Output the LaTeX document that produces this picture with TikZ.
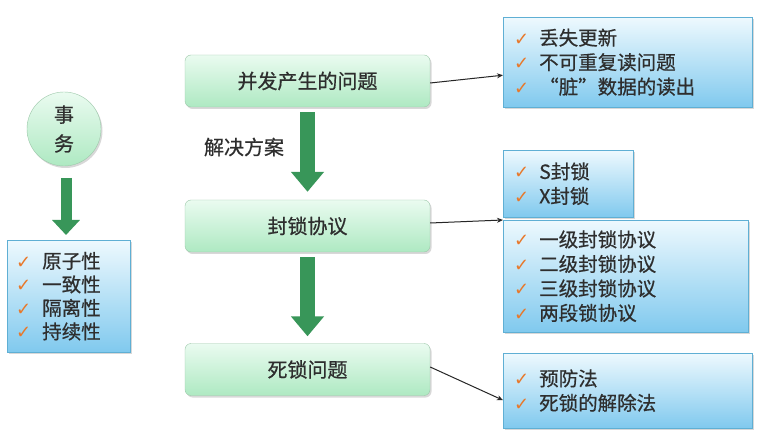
\documentclass[tikz,border=0pt]{standalone}
\usepackage{fontspec}
\setmainfont{Noto Sans CJK SC}[FakeBold=0.6]
\newfontfamily\dejavu{DejaVu Sans}
\usetikzlibrary{shadows,arrows.meta}
\definecolor{txt}{HTML}{2E2E2E}
\definecolor{ckor}{HTML}{E8782A}
\definecolor{lbtop}{HTML}{EEF9FE}
\definecolor{lbbot}{HTML}{80C9EE}
\definecolor{lbdraw}{HTML}{5FAFD4}
\definecolor{gbtop}{HTML}{EAFBF0}
\definecolor{gbbot}{HTML}{AEE9C2}
\definecolor{gbdraw}{HTML}{9DC8AA}
\definecolor{arrg}{HTML}{389659}
\newcommand{\ck}{\makebox[25pt][l]{\dejavu\color{ckor}\fontsize{18}{18}\selectfont ✓}}
\newcommand{\ckk}{\makebox[26pt][l]{\dejavu\color{ckor}\fontsize{18}{18}\selectfont ✓}}
\tikzset{
  gbox/.style={draw=gbdraw, rounded corners=6pt, top color=gbtop, bottom color=gbbot,
    minimum width=245pt, minimum height=52pt, text=txt,
    font=\fontsize{20}{24}\selectfont,
    drop shadow={shadow xshift=1.5pt, shadow yshift=-2pt, opacity=0.3}},
  lbox/.style={draw=lbdraw, top color=lbtop, bottom color=lbbot, text=txt,
    align=left, anchor=north west, inner xsep=11pt, inner ysep=0pt,
    font=\fontsize{19.5}{24.5}\selectfont,
    drop shadow={shadow xshift=1.5pt, shadow yshift=-2pt, opacity=0.3}},
  bigarrow/.style={draw=arrg, line width=15pt, -{Triangle[width=32pt,length=20pt]}},
  smallarrow/.style={draw=arrg, line width=11pt, -{Triangle[width=27pt,length=15pt]}},
  thin/.style={draw=black!85, line width=1pt, -{Stealth[length=6pt,width=5pt]}},
}
\begin{document}
\begin{tikzpicture}[x=1pt,y=-1pt]
\useasboundingbox[fill=white] (0,0) rectangle (762,435);
% left part
\node[circle, draw=gbdraw, top color=gbtop, bottom color=gbbot, minimum size=74pt,
  align=center, text=txt, font=\fontsize{20}{29}\selectfont,
  drop shadow={shadow xshift=1.5pt, shadow yshift=-2pt, opacity=0.3}] (sw) at (64,129) {事\\务};
\node[lbox, minimum width=123pt, minimum height=112pt, inner xsep=9pt, text width=105pt,
  font=\fontsize{19.5}{23.5}\selectfont] (props) at (7,240)
  {\ckk 原子性\\\ckk 一致性\\\ckk 隔离性\\\ckk 持续性};
\coordinate (swend) at (66,235);
\draw[smallarrow] (66,178) -- (swend);
% middle
\node[gbox] (bf) at (307.5,81) {并发产生的问题};
\node[gbox] (fs) at (307.5,226) {封锁协议};
\node[gbox] (sl) at (307.5,369.5) {死锁问题};
\draw[bigarrow, shorten <=5pt, shorten >=8pt] (bf.south) -- (fs.north);
\draw[bigarrow, shorten <=5pt, shorten >=7pt] (fs.south) -- (sl.north);
\node[text=txt, font=\fontsize{20}{24}\selectfont, anchor=center] (jj) at (244,147) {解决方案};
% right boxes
\node[lbox, minimum width=249pt, minimum height=90pt, text width=227pt] (b1) at (503,17)
  {\ck 丢失更新\\\ck 不可重复读问题\\\ck “脏”数据的读出};
\node[lbox, minimum width=130pt, minimum height=67pt, text width=108pt] (bsx) at (503,150)
  {\ck S封锁\\\ck X封锁};
\node[lbox, minimum width=245pt, minimum height=112pt, text width=223pt] (b2) at (503,220)
  {\ck 一级封锁协议\\\ck 二级封锁协议\\\ck 三级封锁协议\\\ck 两段锁协议};
\node[lbox, minimum width=249pt, minimum height=75pt, text width=227pt] (b3) at (503,353)
  {\ck 预防法\\\ck 死锁的解除法};
% connectors
\draw[thin] ([yshift=-2pt]bf.east) -- ([yshift=-13pt]b1.west);
\draw[thin] ([yshift=3pt]fs.east) -- (b2.north west);
\draw[thin] ([yshift=2.5pt]sl.east) -- ([yshift=-9.5pt]b3.west);
\end{tikzpicture}
\end{document}
